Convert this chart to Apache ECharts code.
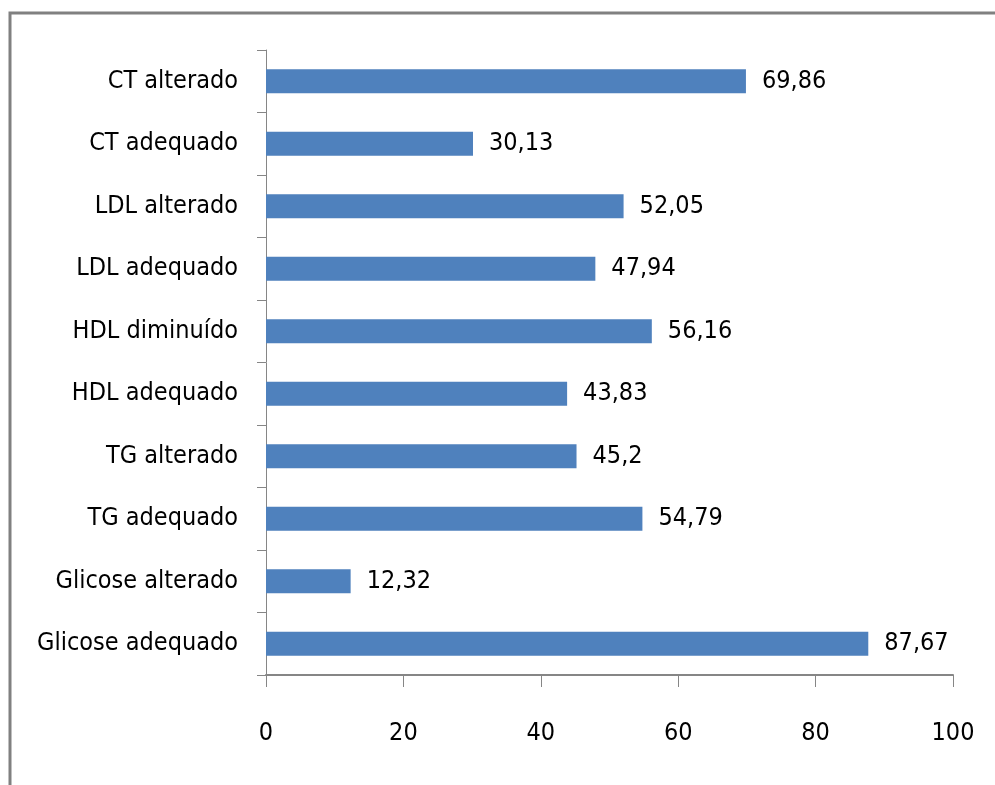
<!DOCTYPE html>
<html><head><meta charset="utf-8">
<script src="https://cdn.jsdelivr.net/npm/echarts@6/dist/echarts.min.js"></script>
<style>html,body{margin:0;padding:0;background:#fff}#c{width:995px;height:785px}</style>
</head><body><div id="c"></div>
<script>
const categories = ["Glicose adequado","Glicose alterado","TG adequado","TG alterado","HDL adequado","HDL diminuído","LDL adequado","LDL alterado","CT adequado","CT alterado"];
const values = [87.67,12.32,54.79,45.2,43.83,56.16,47.94,52.05,30.13,69.86];
const xTicks = [0,20,40,60,80,100];
const FONT = "'Liberation Sans Narrow','DejaVu Sans Condensed','Liberation Sans',sans-serif";
const chart = echarts.init(document.getElementById('c'));
chart.setOption({
  animation:false,
  graphic:[{type:'rect',shape:{x:10,y:13,width:1000,height:800},style:{fill:'none',stroke:'#808080',lineWidth:3}}],
  grid:{left:266,right:42,top:50,bottom:110,containLabel:false},
  xAxis:{type:'value',min:xTicks[0],max:xTicks[xTicks.length-1],interval:20,
    splitLine:{show:false},
    axisLine:{show:true,lineStyle:{color:'#868686',width:2}},
    axisTick:{show:true,inside:false,length:12,lineStyle:{color:'#868686',width:1}},
    axisLabel:{margin:46,fontSize:25,color:'#000',fontFamily:FONT,formatter:v=>String(v)}},
  yAxis:{type:'category',data:categories,
    axisLine:{show:true,lineStyle:{color:'#868686',width:1}},
    axisTick:{show:true,inside:false,length:9,lineStyle:{color:'#868686'}},
    axisLabel:{margin:28,fontSize:25,color:'#000',fontFamily:FONT}},
  series:[{type:'bar',data:values,barWidth:24,
    itemStyle:{color:'#4F81BD'},
    label:{show:true,position:'right',distance:16,fontSize:25,color:'#000',fontFamily:FONT,
      formatter:p=>String(p.value).replace('.',',')}}]
});
</script></body></html>
